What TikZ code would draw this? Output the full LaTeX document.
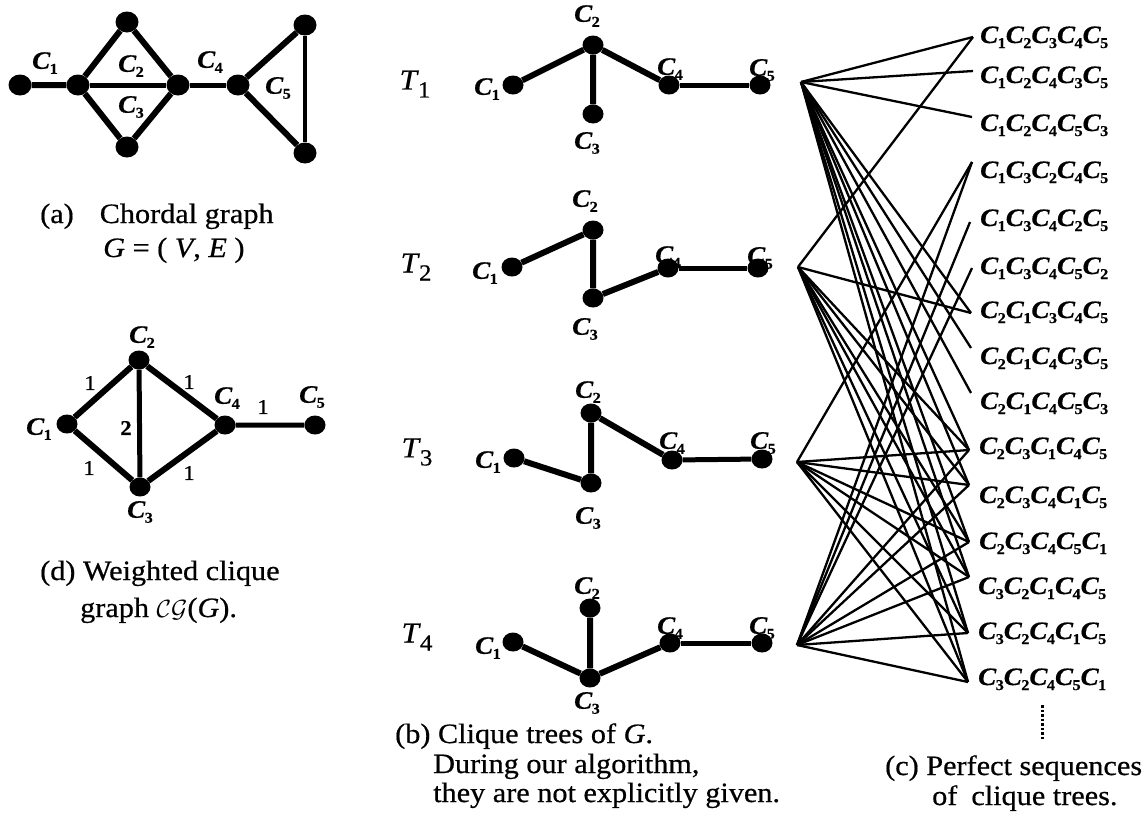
\documentclass[tikz,border=0pt]{standalone}
\usepackage{fontspec}
\setmainfont[FakeStretch=1.08,FakeBold=0.6]{Liberation Serif}
\usetikzlibrary{shapes.geometric}
\newcommand\Cn[1]{{\fontsize{25pt}{25pt}\selectfont\bfseries\itshape C\kern-0.5pt\raisebox{-5pt}{\fontsize{15pt}{15pt}\selectfont\upshape #1}}}
\newcommand\Cq[1]{{\bfseries\itshape C\kern-0.5pt\raisebox{-5pt}{\fontsize{15pt}{15pt}\selectfont\upshape #1}}}
\newcommand\Tn[1]{{\fontsize{29pt}{29pt}\selectfont\itshape T\kern1pt\raisebox{-8pt}{\fontsize{23pt}{23pt}\selectfont\upshape #1}}}
\begin{document}
\begin{tikzpicture}[x=1pt,y=-1pt,
  dot/.style={ellipse,fill=black,inner sep=0pt,minimum width=21pt,minimum height=19pt},
  bigdot/.style={dot,minimum width=23pt,minimum height=21pt},
  edge/.style={line width=6pt},
  medge/.style={line width=5pt},
  tedge/.style={line width=4pt},
  conn/.style={line width=2.3pt},
  lab/.style={inner sep=0pt,anchor=center},
  wt/.style={inner sep=0pt,anchor=center,font=\fontsize{21pt}{21pt}\selectfont},
  captxt/.style={inner sep=0pt,anchor=base west,font=\fontsize{28pt}{30pt}\selectfont},
  seq/.style={inner sep=0pt,anchor=base west,font=\fontsize{25pt}{25pt}\selectfont},
  tl/.style={inner sep=0pt,anchor=center}]
\useasboundingbox (0,0) rectangle (1147,817);
% ---------------- (a) chordal graph
\node[lab] (la1) at (45,63) {\Cn1};
\node[lab] (la2) at (131,66) {\Cn2};
\node[lab] (la3) at (131,107) {\Cn3};
\node[lab] (la4) at (210,62) {\Cn4};
\node[lab] (la5) at (278,88) {\Cn5};
\node[bigdot] (a1) at (20,85) {};
\node[bigdot] (a2) at (78,85) {};
\node[bigdot] (a3) at (127,22) {};
\node[bigdot] (a4) at (127,147) {};
\node[bigdot] (a5) at (178,85) {};
\node[bigdot] (a6) at (238,85) {};
\node[bigdot] (a7) at (305,25) {};
\node[bigdot] (a8) at (305,153) {};
\draw[edge] (a1)--(a2) (a2)--(a3) (a2)--(a4) (a3)--(a5) (a4)--(a5) (a6)--(a7) (a6)--(a8);
\draw[medge] (a2)--(a5) (a5)--(a6);
\draw[tedge] (a7)--(a8);
\node[captxt] (capa1) at (40,223) {(a)\hspace{26pt}Chordal graph};
\node[captxt] (capa2) at (103,257) {\textit{G} = ( \textit{V}, \textit{E} )};
% ---------------- (d) weighted clique graph
\node[lab] (ld1) at (39,429) {\Cn1};
\node[lab] (ld2) at (142,337) {\Cn2};
\node[lab] (ld3) at (140,512) {\Cn3};
\node[lab] (ld4) at (227,398) {\Cn4};
\node[lab] (ld5) at (312,397) {\Cn5};
\node[dot] (d1) at (67,424) {};
\node[dot] (d2) at (139,360) {};
\node[dot] (d3) at (140,487) {};
\node[dot] (d4) at (225,425) {};
\node[dot] (d5) at (315,425) {};
\draw[edge] (d1)--(d2) (d1)--(d3) (d2)--(d4) (d3)--(d4);
\draw[medge] (d2)--(d3) (d4)--(d5);
\node[wt] (w12) at (90,383) {1};
\node[wt] (w24) at (189,382) {1};
\node[wt] (w23) at (126,428) {\bfseries 2};
\node[wt] (w13) at (89,468) {1};
\node[wt] (w34) at (189,473) {1};
\node[wt] (w45) at (263,407) {1};
\node[captxt] (capd1) at (40,580) {(d) Weighted clique};
\node[captxt] (capd2) at (80,617) {graph $\mathcal{CG}$(\textit{G}).};
% ---------------- (b) clique trees
% T1
\node[tl] (T1) at (415,84) {\Tn1};
\node[lab] (l11) at (487,89) {\Cn1};
\node[lab] (l12) at (587,16) {\Cn2};
\node[lab] (l13) at (587,143) {\Cn3};
\node[lab] (l14) at (670,69) {\Cn4};
\node[lab] (l15) at (762,70) {\Cn5};
\node[dot] (p11) at (513,85) {};
\node[dot] (p12) at (593,45) {};
\node[dot] (p13) at (593,114) {};
\node[dot] (p14) at (669,85) {};
\node[dot] (p15) at (760,85) {};
\draw[edge] (p11)--(p12) (p12)--(p13) (p12)--(p14);
\draw[medge] (p14)--(p15);
% T2
\node[tl] (T2) at (416,267) {\Tn2};
\node[lab] (l21) at (485,273) {\Cn1};
\node[lab] (l22) at (585,201) {\Cn2};
\node[lab] (l23) at (585,329) {\Cn3};
\node[lab] (l24) at (668,257) {\Cn4};
\node[lab] (l25) at (760,258) {\Cn5};
\node[dot] (p21) at (512,267) {};
\node[dot] (p22) at (593,230) {};
\node[dot] (p23) at (593,298) {};
\node[dot] (p24) at (668,268) {};
\node[dot] (p25) at (758,268) {};
\draw[edge] (p21)--(p22) (p22)--(p23) (p23)--(p24);
\draw[medge] (p24)--(p25);
% T3
\node[tl] (T3) at (417,452) {\Tn3};
\node[lab] (l31) at (488,462) {\Cn1};
\node[lab] (l32) at (588,392) {\Cn2};
\node[lab] (l33) at (588,518) {\Cn3};
\node[lab] (l34) at (672,443) {\Cn4};
\node[lab] (l35) at (763,443) {\Cn5};
\node[dot] (p31) at (514,458) {};
\node[dot] (p32) at (591,413) {};
\node[dot] (p33) at (591,483) {};
\node[dot] (p34) at (672,460) {};
\node[dot] (p35) at (762,459) {};
\draw[edge] (p31)--(p33) (p33)--(p32) (p32)--(p34);
\draw[medge] (p34)--(p35);
% T4
\node[tl] (T4) at (417,637) {\Tn4};
\node[lab] (l41) at (488,648) {\Cn1};
\node[lab] (l42) at (587,588) {\Cn2};
\node[lab] (l43) at (587,703) {\Cn3};
\node[lab] (l44) at (670,628) {\Cn4};
\node[lab] (l45) at (762,628) {\Cn5};
\node[dot] (p41) at (513,642) {};
\node[dot] (p42) at (590,608) {};
\node[dot] (p43) at (590,678) {};
\node[dot] (p44) at (670,643) {};
\node[dot] (p45) at (762,643) {};
\draw[edge] (p41)--(p43) (p42)--(p43) (p43)--(p44);
\draw[medge] (p44)--(p45);
\node[captxt] (capb1) at (395,743) {(b) Clique trees of \textit{G}.};
\node[captxt] (capb2) at (433,773) {During our algorithm,};
\node[captxt] (capb3) at (433,802) {they are not explicitly given.};
% ---------------- (c) perfect sequences
\node[seq] (s1) at (980,43) {\Cq1\Cq2\Cq3\Cq4\Cq5};
\node[seq] (s2) at (980,83) {\Cq1\Cq2\Cq4\Cq3\Cq5};
\node[seq] (s3) at (980,131) {\Cq1\Cq2\Cq4\Cq5\Cq3};
\node[seq] (s4) at (980,178) {\Cq1\Cq3\Cq2\Cq4\Cq5};
\node[seq] (s5) at (980,226) {\Cq1\Cq3\Cq4\Cq2\Cq5};
\node[seq] (s6) at (980,274) {\Cq1\Cq3\Cq4\Cq5\Cq2};
\node[seq] (s7) at (980,318) {\Cq2\Cq1\Cq3\Cq4\Cq5};
\node[seq] (s8) at (980,364) {\Cq2\Cq1\Cq4\Cq3\Cq5};
\node[seq] (s9) at (980,409) {\Cq2\Cq1\Cq4\Cq5\Cq3};
\node[seq] (s10) at (979,454) {\Cq2\Cq3\Cq1\Cq4\Cq5};
\node[seq] (s11) at (979,503) {\Cq2\Cq3\Cq4\Cq1\Cq5};
\node[seq] (s12) at (979,549) {\Cq2\Cq3\Cq4\Cq5\Cq1};
\node[seq] (s13) at (978,594) {\Cq3\Cq2\Cq1\Cq4\Cq5};
\node[seq] (s14) at (978,639) {\Cq3\Cq2\Cq4\Cq1\Cq5};
\node[seq] (s15) at (978,685) {\Cq3\Cq2\Cq4\Cq5\Cq1};
\coordinate (h1) at (801,82);
\coordinate (h2) at (798,267);
\coordinate (h3) at (797,462);
\coordinate (h4) at (797,645);
\coordinate (e1) at (973,37);
\coordinate (e2) at (973,71);
\coordinate (e3) at (972,117);
\coordinate (e4) at (972,162);
\coordinate (e5) at (970,222);
\coordinate (e6) at (972,268);
\coordinate (e7) at (971,313);
\coordinate (e8) at (971,348);
\coordinate (e9) at (971,393);
\coordinate (e10) at (969,450);
\coordinate (e11) at (969,485);
\coordinate (e12) at (969,542);
\coordinate (e13) at (969,577);
\coordinate (e14) at (968,633);
\coordinate (e15) at (968,682);
\foreach \j in {1,2,3,7,8,9,10,11,12,13,14,15} \draw[conn] (h1)--(e\j);
\foreach \j in {1,7,10,11,12,13,14,15} \draw[conn] (h2)--(e\j);
\foreach \j in {4,10,11,12,13,14,15} \draw[conn] (h3)--(e\j);
\foreach \j in {4,5,6,10,11,12,13,14,15} \draw[conn] (h4)--(e\j);
\coordinate (v1) at (1042,705);
\coordinate (v2) at (1042,740);
\draw[line width=3pt,dash pattern=on 2.5pt off 2pt] (v1)--(v2);
\node[captxt] (capc1) at (885,775) {(c) Perfect sequences};
\node[captxt] (capc2) at (932,805) {of\hspace{14pt}clique trees.};
\end{tikzpicture}
\end{document}
